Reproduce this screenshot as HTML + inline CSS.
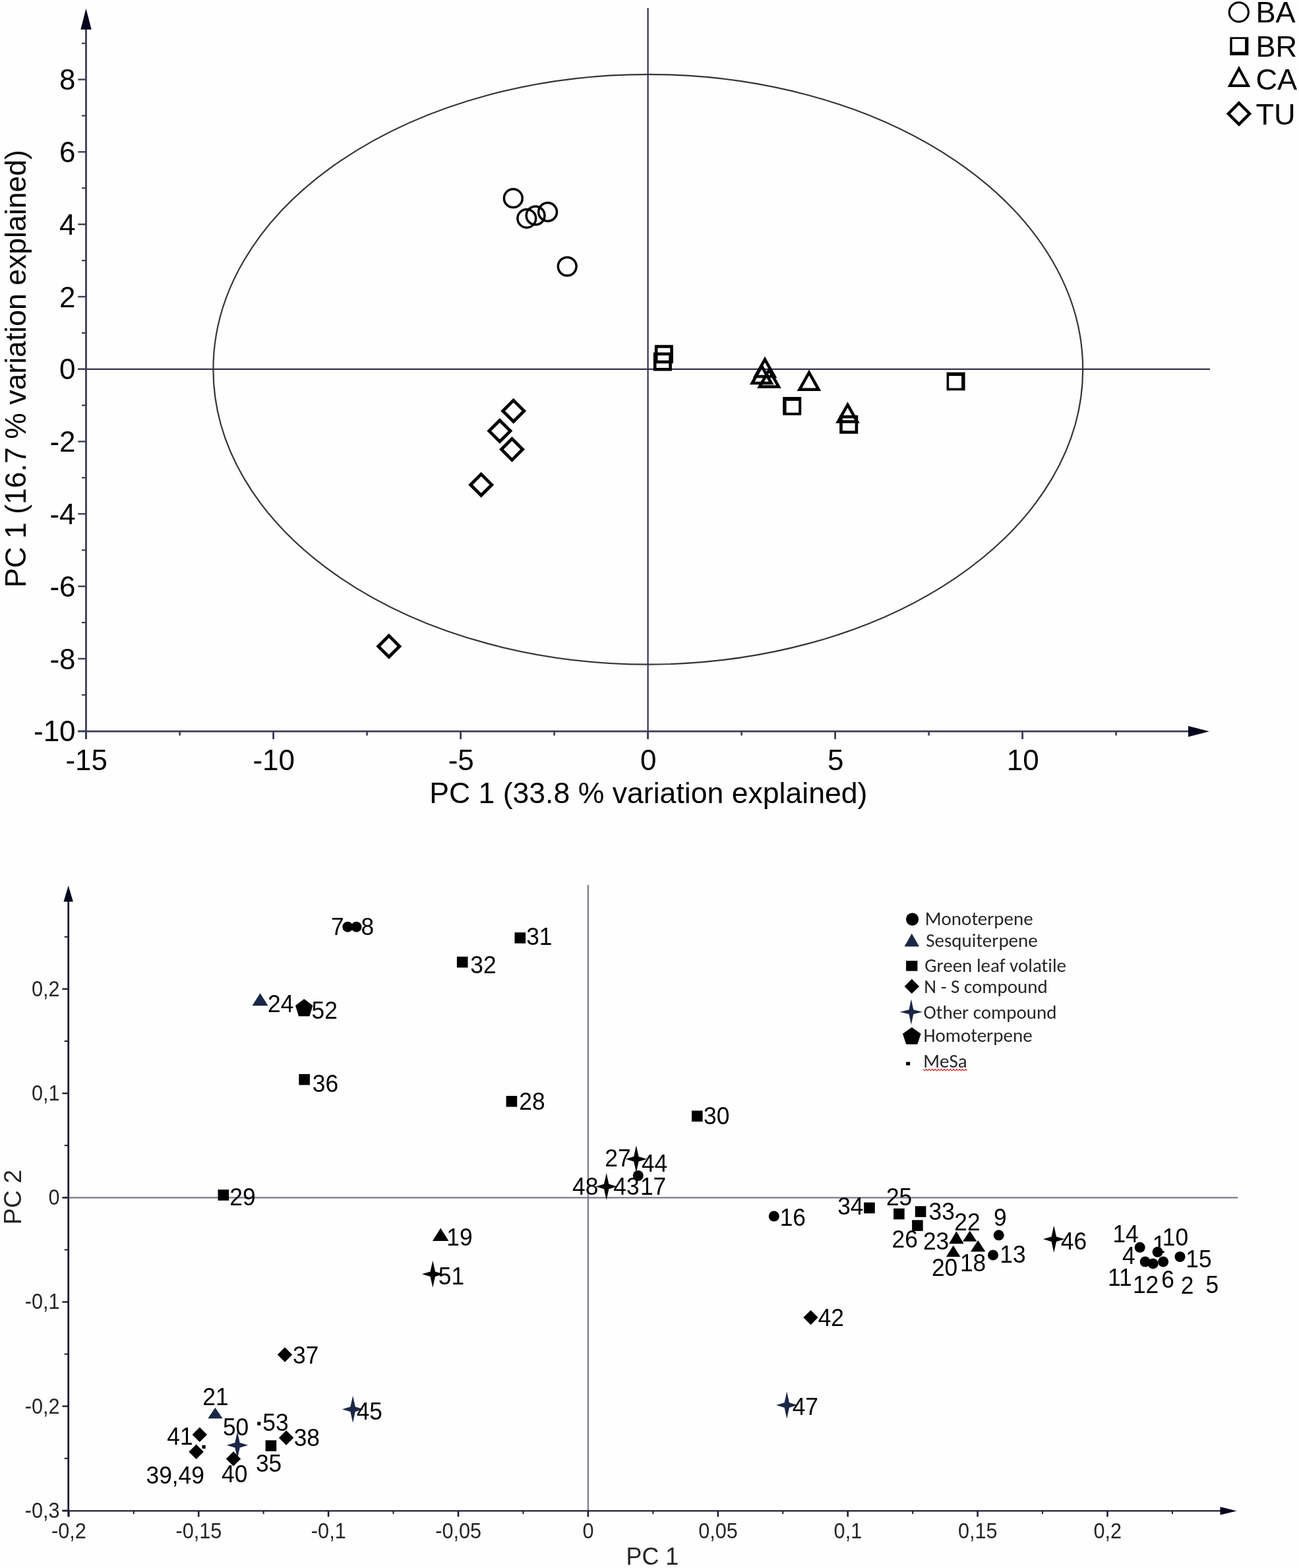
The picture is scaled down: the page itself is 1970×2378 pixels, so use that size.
<!DOCTYPE html>
<html><head><meta charset="utf-8"><title>PCA plots</title>
<style>
html,body{margin:0;padding:0;background:#fff;}
body{width:1970px;height:2378px;overflow:hidden;}
svg{display:block;}
</style></head>
<body>
<svg xmlns="http://www.w3.org/2000/svg" width="1970" height="2378" viewBox="0 0 1970 2378">
<rect width="1970" height="2378" fill="#fefefe"/>
<g id="top">
<line x1="982.6" y1="12" x2="982.6" y2="1121" stroke="#34344e" stroke-width="2.2"/>
<line x1="118" y1="559.8" x2="1835" y2="559.8" stroke="#34344e" stroke-width="2.2"/>
<ellipse cx="982.8" cy="560.2" rx="659.4" ry="447.4" fill="none" stroke="#363636" stroke-width="2.2"/>
<line x1="130.5" y1="40" x2="130.5" y2="1121" stroke="#3c3c54" stroke-width="2.8"/>
<line x1="118" y1="1109.2" x2="1806" y2="1109.2" stroke="#3c3c54" stroke-width="2.8"/>
<polygon points="130.5,13 122.3,44.8 138.7,44.8" fill="#05051e"/>
<polygon points="1834,1109.2 1802,1100.9 1802,1117.5" fill="#05051e"/>
<line x1="118.3" y1="1108.8" x2="130.5" y2="1108.8" stroke="#3c3c54" stroke-width="2.4"/>
<line x1="124" y1="1053.9" x2="130.5" y2="1053.9" stroke="#3c3c54" stroke-width="2.2"/>
<line x1="118.3" y1="999" x2="130.5" y2="999" stroke="#3c3c54" stroke-width="2.4"/>
<line x1="124" y1="944.1" x2="130.5" y2="944.1" stroke="#3c3c54" stroke-width="2.2"/>
<line x1="118.3" y1="889.2" x2="130.5" y2="889.2" stroke="#3c3c54" stroke-width="2.4"/>
<line x1="124" y1="834.3" x2="130.5" y2="834.3" stroke="#3c3c54" stroke-width="2.2"/>
<line x1="118.3" y1="779.4" x2="130.5" y2="779.4" stroke="#3c3c54" stroke-width="2.4"/>
<line x1="124" y1="724.5" x2="130.5" y2="724.5" stroke="#3c3c54" stroke-width="2.2"/>
<line x1="118.3" y1="669.6" x2="130.5" y2="669.6" stroke="#3c3c54" stroke-width="2.4"/>
<line x1="124" y1="614.7" x2="130.5" y2="614.7" stroke="#3c3c54" stroke-width="2.2"/>
<line x1="118.3" y1="559.8" x2="130.5" y2="559.8" stroke="#3c3c54" stroke-width="2.4"/>
<line x1="124" y1="504.9" x2="130.5" y2="504.9" stroke="#3c3c54" stroke-width="2.2"/>
<line x1="118.3" y1="450" x2="130.5" y2="450" stroke="#3c3c54" stroke-width="2.4"/>
<line x1="124" y1="395.1" x2="130.5" y2="395.1" stroke="#3c3c54" stroke-width="2.2"/>
<line x1="118.3" y1="340.2" x2="130.5" y2="340.2" stroke="#3c3c54" stroke-width="2.4"/>
<line x1="124" y1="285.3" x2="130.5" y2="285.3" stroke="#3c3c54" stroke-width="2.2"/>
<line x1="118.3" y1="230.4" x2="130.5" y2="230.4" stroke="#3c3c54" stroke-width="2.4"/>
<line x1="124" y1="175.5" x2="130.5" y2="175.5" stroke="#3c3c54" stroke-width="2.2"/>
<line x1="118.3" y1="120.6" x2="130.5" y2="120.6" stroke="#3c3c54" stroke-width="2.4"/>
<line x1="124" y1="65.7" x2="130.5" y2="65.7" stroke="#3c3c54" stroke-width="2.2"/>
<line x1="130.6" y1="1109.2" x2="130.6" y2="1121" stroke="#3c3c54" stroke-width="2.8"/>
<line x1="272.6" y1="1109.2" x2="272.6" y2="1115.5" stroke="#3c3c54" stroke-width="2.6"/>
<line x1="414.6" y1="1109.2" x2="414.6" y2="1121" stroke="#3c3c54" stroke-width="2.8"/>
<line x1="556.6" y1="1109.2" x2="556.6" y2="1115.5" stroke="#3c3c54" stroke-width="2.6"/>
<line x1="698.6" y1="1109.2" x2="698.6" y2="1121" stroke="#3c3c54" stroke-width="2.8"/>
<line x1="840.6" y1="1109.2" x2="840.6" y2="1115.5" stroke="#3c3c54" stroke-width="2.6"/>
<line x1="982.6" y1="1109.2" x2="982.6" y2="1121" stroke="#3c3c54" stroke-width="2.8"/>
<line x1="1124.6" y1="1109.2" x2="1124.6" y2="1115.5" stroke="#3c3c54" stroke-width="2.6"/>
<line x1="1266.6" y1="1109.2" x2="1266.6" y2="1121" stroke="#3c3c54" stroke-width="2.8"/>
<line x1="1408.6" y1="1109.2" x2="1408.6" y2="1115.5" stroke="#3c3c54" stroke-width="2.6"/>
<line x1="1550.6" y1="1109.2" x2="1550.6" y2="1121" stroke="#3c3c54" stroke-width="2.8"/>
<line x1="1692.6" y1="1109.2" x2="1692.6" y2="1115.5" stroke="#3c3c54" stroke-width="2.6"/>
<g style="font-family:'Liberation Sans',Arial,sans-serif;font-size:44px" fill="#000"><text x="114.6" y="1124.4" text-anchor="end">-10</text><text x="114.6" y="1014.6" text-anchor="end">-8</text><text x="114.6" y="904.8" text-anchor="end">-6</text><text x="114.6" y="795" text-anchor="end">-4</text><text x="114.6" y="685.2" text-anchor="end">-2</text><text x="114.6" y="575.4" text-anchor="end">0</text><text x="114.6" y="465.6" text-anchor="end">2</text><text x="114.6" y="355.8" text-anchor="end">4</text><text x="114.6" y="246" text-anchor="end">6</text><text x="114.6" y="136.2" text-anchor="end">8</text><text x="131.2" y="1167.5" text-anchor="middle">-15</text><text x="415.2" y="1167.5" text-anchor="middle">-10</text><text x="699.2" y="1167.5" text-anchor="middle">-5</text><text x="983.2" y="1167.5" text-anchor="middle">0</text><text x="1267.2" y="1167.5" text-anchor="middle">5</text><text x="1551.2" y="1167.5" text-anchor="middle">10</text><text x="983.3" y="1217.6" text-anchor="middle" style="font-size:44.6px">PC 1 (33.8 % variation explained)</text><text transform="translate(39.4 559.2) rotate(-90)" x="0" y="0" text-anchor="middle" style="font-size:44.6px">PC 1 (16.7 % variation explained)</text><text x="1904.4" y="33.7" style="font-size:45.2px">BA</text><text x="1904.4" y="85.8" style="font-size:45.2px">BR</text><text x="1904.4" y="136.0" style="font-size:45.2px">CA</text><text x="1904.4" y="189.4" style="font-size:45.2px">TU</text></g>
<circle cx="778.3" cy="300.7" r="13.9" fill="none" stroke="#000" stroke-width="3.5"/>
<circle cx="798.8" cy="331.3" r="13.9" fill="none" stroke="#000" stroke-width="3.5"/>
<circle cx="812.1" cy="326.9" r="13.9" fill="none" stroke="#000" stroke-width="3.5"/>
<circle cx="830.6" cy="321.5" r="13.9" fill="none" stroke="#000" stroke-width="3.5"/>
<circle cx="860.2" cy="404.1" r="13.9" fill="none" stroke="#000" stroke-width="3.5"/>
<rect x="995.2" y="525.5" width="23.4" height="23.4" fill="none" stroke="#000" stroke-width="4.6"/>
<rect x="993.2" y="536.8" width="23.4" height="23.4" fill="none" stroke="#000" stroke-width="4.6"/>
<rect x="1275.5" y="632.1" width="23.4" height="23.4" fill="none" stroke="#000" stroke-width="4.6"/>
<rect x="1187.2" y="602" width="28" height="27.7" fill="#000"/><rect x="1192.6" y="607.9" width="18.6" height="17.9" fill="#fff"/>
<rect x="1435.6" y="564.6" width="28" height="27.6" fill="#000"/><rect x="1439.2" y="570.1" width="18.9" height="18.5" fill="#fff"/>
<polygon points="1160,545.2 1145.5,571 1174.5,571" fill="none" stroke="#000" stroke-width="4.5" stroke-miterlimit="10"/>
<polygon points="1155.2,555.3 1140.7,581.1 1169.7,581.1" fill="none" stroke="#000" stroke-width="4.5" stroke-miterlimit="10"/>
<polygon points="1166.5,560.8 1152,586.6 1181,586.6" fill="none" stroke="#000" stroke-width="4.5" stroke-miterlimit="10"/>
<polygon points="1227,565 1212.5,590.8 1241.5,590.8" fill="none" stroke="#000" stroke-width="4.5" stroke-miterlimit="10"/>
<polygon points="1285.5,613.8 1271,639.6 1300,639.6" fill="none" stroke="#000" stroke-width="4.5" stroke-miterlimit="10"/>
<polygon points="778.7,607.1 794.8,623.2 778.7,639.3 762.6,623.2" fill="none" stroke="#000" stroke-width="4.8" stroke-miterlimit="10"/>
<polygon points="757.9,637.5 774,653.6 757.9,669.7 741.8,653.6" fill="none" stroke="#000" stroke-width="4.8" stroke-miterlimit="10"/>
<polygon points="776.5,665.4 792.6,681.5 776.5,697.6 760.4,681.5" fill="none" stroke="#000" stroke-width="4.8" stroke-miterlimit="10"/>
<polygon points="729.7,719.1 745.8,735.2 729.7,751.3 713.6,735.2" fill="none" stroke="#000" stroke-width="4.8" stroke-miterlimit="10"/>
<polygon points="589.8,964.1 605.9,980.2 589.8,996.3 573.7,980.2" fill="none" stroke="#000" stroke-width="4.8" stroke-miterlimit="10"/>
<circle cx="1878.8" cy="18.4" r="14.6" fill="none" stroke="#000" stroke-width="3.1"/>
<rect x="1865.3" y="56.3" width="28" height="27.5" fill="#000"/><rect x="1868.7" y="59.1" width="19.4" height="19.5" fill="#fff"/>
<polygon points="1879,104 1865,130 1893,130" fill="none" stroke="#000" stroke-width="4.0" stroke-miterlimit="10"/>
<polygon points="1879,156.2 1895.2,172.4 1879,188.6 1862.8,172.4" fill="none" stroke="#000" stroke-width="4.4" stroke-miterlimit="10"/>
</g>
<g id="bottom">
<line x1="891.9" y1="1342" x2="891.9" y2="2300.3" stroke="#7a7a8c" stroke-width="2.2"/>
<line x1="94.5" y1="1816.3" x2="1877.2" y2="1816.3" stroke="#7a7a8c" stroke-width="2.2"/>
<line x1="103.7" y1="1364" x2="103.7" y2="2300.3" stroke="#1c1c32" stroke-width="2.8"/>
<line x1="94.5" y1="2291.4" x2="1853" y2="2291.4" stroke="#1c1c32" stroke-width="2.2"/>
<polygon points="103.7,1343 96.5,1367.6 110.9,1367.6" fill="#05051e"/>
<polygon points="1875.6,2291.4 1850.5,2285.2000000000003 1850.5,2297.6" fill="#05051e"/>
<line x1="94.4" y1="2290.9" x2="103.7" y2="2290.9" stroke="#1c1c32" stroke-width="2.4"/>
<line x1="97.7" y1="2211.8" x2="103.7" y2="2211.8" stroke="#1c1c32" stroke-width="2"/>
<line x1="94.4" y1="2132.7" x2="103.7" y2="2132.7" stroke="#1c1c32" stroke-width="2.4"/>
<line x1="97.7" y1="2053.6" x2="103.7" y2="2053.6" stroke="#1c1c32" stroke-width="2"/>
<line x1="94.4" y1="1974.5" x2="103.7" y2="1974.5" stroke="#1c1c32" stroke-width="2.4"/>
<line x1="97.7" y1="1895.4" x2="103.7" y2="1895.4" stroke="#1c1c32" stroke-width="2"/>
<line x1="94.4" y1="1816.3" x2="103.7" y2="1816.3" stroke="#1c1c32" stroke-width="2.4"/>
<line x1="97.7" y1="1737.2" x2="103.7" y2="1737.2" stroke="#1c1c32" stroke-width="2"/>
<line x1="94.4" y1="1658.1" x2="103.7" y2="1658.1" stroke="#1c1c32" stroke-width="2.4"/>
<line x1="97.7" y1="1579" x2="103.7" y2="1579" stroke="#1c1c32" stroke-width="2"/>
<line x1="94.4" y1="1499.9" x2="103.7" y2="1499.9" stroke="#1c1c32" stroke-width="2.4"/>
<line x1="97.7" y1="1420.8" x2="103.7" y2="1420.8" stroke="#1c1c32" stroke-width="2"/>
<line x1="104.3" y1="2291.4" x2="104.3" y2="2300.3" stroke="#1c1c32" stroke-width="2.6"/>
<line x1="202.75" y1="2291.4" x2="202.75" y2="2296.2" stroke="#1c1c32" stroke-width="2"/>
<line x1="301.2" y1="2291.4" x2="301.2" y2="2300.3" stroke="#1c1c32" stroke-width="2.6"/>
<line x1="399.65" y1="2291.4" x2="399.65" y2="2296.2" stroke="#1c1c32" stroke-width="2"/>
<line x1="498.1" y1="2291.4" x2="498.1" y2="2300.3" stroke="#1c1c32" stroke-width="2.6"/>
<line x1="596.55" y1="2291.4" x2="596.55" y2="2296.2" stroke="#1c1c32" stroke-width="2"/>
<line x1="695" y1="2291.4" x2="695" y2="2300.3" stroke="#1c1c32" stroke-width="2.6"/>
<line x1="793.45" y1="2291.4" x2="793.45" y2="2296.2" stroke="#1c1c32" stroke-width="2"/>
<line x1="891.9" y1="2291.4" x2="891.9" y2="2300.3" stroke="#1c1c32" stroke-width="2.6"/>
<line x1="990.35" y1="2291.4" x2="990.35" y2="2296.2" stroke="#1c1c32" stroke-width="2"/>
<line x1="1088.8" y1="2291.4" x2="1088.8" y2="2300.3" stroke="#1c1c32" stroke-width="2.6"/>
<line x1="1187.25" y1="2291.4" x2="1187.25" y2="2296.2" stroke="#1c1c32" stroke-width="2"/>
<line x1="1285.7" y1="2291.4" x2="1285.7" y2="2300.3" stroke="#1c1c32" stroke-width="2.6"/>
<line x1="1384.15" y1="2291.4" x2="1384.15" y2="2296.2" stroke="#1c1c32" stroke-width="2"/>
<line x1="1482.6" y1="2291.4" x2="1482.6" y2="2300.3" stroke="#1c1c32" stroke-width="2.6"/>
<line x1="1581.05" y1="2291.4" x2="1581.05" y2="2296.2" stroke="#1c1c32" stroke-width="2"/>
<line x1="1679.5" y1="2291.4" x2="1679.5" y2="2300.3" stroke="#1c1c32" stroke-width="2.6"/>
<line x1="1777.95" y1="2291.4" x2="1777.95" y2="2296.2" stroke="#1c1c32" stroke-width="2"/>
<g style="font-family:'Liberation Sans',Arial,sans-serif;font-size:33px" fill="#262626"><text transform="translate(90.6 1510.8) scale(0.93 1)" text-anchor="end">0,2</text><text transform="translate(90.6 1669) scale(0.93 1)" text-anchor="end">0,1</text><text transform="translate(90.6 1827.2) scale(0.93 1)" text-anchor="end">0</text><text transform="translate(90.6 1985.4) scale(0.93 1)" text-anchor="end">-0,1</text><text transform="translate(90.6 2143.6) scale(0.93 1)" text-anchor="end">-0,2</text><text transform="translate(90.6 2301.8) scale(0.93 1)" text-anchor="end">-0,3</text><text transform="translate(104.5 2332.5) scale(0.93 1)" text-anchor="middle">-0,2</text><text transform="translate(301.4 2332.5) scale(0.93 1)" text-anchor="middle">-0,15</text><text transform="translate(498.3 2332.5) scale(0.93 1)" text-anchor="middle">-0,1</text><text transform="translate(695.2 2332.5) scale(0.93 1)" text-anchor="middle">-0,05</text><text transform="translate(892.1 2332.5) scale(0.93 1)" text-anchor="middle">0</text><text transform="translate(1089 2332.5) scale(0.93 1)" text-anchor="middle">0,05</text><text transform="translate(1285.9 2332.5) scale(0.93 1)" text-anchor="middle">0,1</text><text transform="translate(1482.8 2332.5) scale(0.93 1)" text-anchor="middle">0,15</text><text transform="translate(1679.7 2332.5) scale(0.93 1)" text-anchor="middle">0,2</text><text transform="translate(989.4 2373.3) scale(0.95 1)" text-anchor="middle" style="font-size:37.8px">PC 1</text><text transform="translate(31.7 1815.5) rotate(-90)" text-anchor="middle" style="font-size:37.5px">PC 2</text></g>
<circle cx="527.3" cy="1405.7" r="8.0" fill="#000"/>
<circle cx="540.5" cy="1405.7" r="8.0" fill="#000"/>
<circle cx="967.8" cy="1783" r="8.0" fill="#000"/>
<circle cx="1173.8" cy="1844.5" r="8.0" fill="#000"/>
<circle cx="1514.7" cy="1873.3" r="8.0" fill="#000"/>
<circle cx="1506" cy="1903.4" r="8.0" fill="#000"/>
<circle cx="1728.7" cy="1891.8" r="8.0" fill="#000"/>
<circle cx="1755.6" cy="1898.8" r="8.0" fill="#000"/>
<circle cx="1789.5" cy="1906" r="8.0" fill="#000"/>
<circle cx="1736.7" cy="1913.5" r="8.0" fill="#000"/>
<circle cx="1748.6" cy="1916.4" r="8.0" fill="#000"/>
<circle cx="1764.1" cy="1913.5" r="8.0" fill="#000"/>
<polygon points="668.2,1862.5 655.95,1881.9 680.45,1881.9" fill="#000"/>
<polygon points="1450.4,1867.2 1439.15,1886.2 1461.65,1886.2" fill="#000"/>
<polygon points="1470.7,1866.4 1459.95,1882.8 1481.45,1882.8" fill="#000"/>
<polygon points="1445.7,1888.8 1434.95,1906 1456.45,1906" fill="#000"/>
<polygon points="1483.2,1881 1471.95,1898.3 1494.45,1898.3" fill="#000"/>
<polygon points="394.5,1506.3 382.5,1525.2 406.5,1525.2" fill="#1a2746"/>
<polygon points="326.4,2134.8 315.2,2151.2 337.6,2151.2" fill="#1a2746"/>
<rect x="780.5" y="1414.1" width="16.6" height="16.6" fill="#000"/>
<rect x="692.9" y="1450.8" width="16.6" height="16.6" fill="#000"/>
<rect x="453.3" y="1628.9" width="16.6" height="16.6" fill="#000"/>
<rect x="767.6" y="1662" width="16.6" height="16.6" fill="#000"/>
<rect x="330.5" y="1804.1" width="16.6" height="16.6" fill="#000"/>
<rect x="1049" y="1684.4" width="16.6" height="16.6" fill="#000"/>
<rect x="1310.2" y="1823.6" width="16.6" height="16.6" fill="#000"/>
<rect x="1355.1" y="1832.7" width="16.6" height="16.6" fill="#000"/>
<rect x="1387.8" y="1829.2" width="16.6" height="16.6" fill="#000"/>
<rect x="1383.1" y="1850.3" width="16.6" height="16.6" fill="#000"/>
<rect x="402.6" y="2184.3" width="16.6" height="16.6" fill="#000"/>
<polygon points="1229.5,1986.9 1240.7,1998.1 1229.5,2009.3 1218.3,1998.1" fill="#000"/>
<polygon points="432,2043.3 443.2,2054.5 432,2065.7 420.8,2054.5" fill="#000"/>
<polygon points="302.8,2164.5 314,2175.7 302.8,2186.9 291.6,2175.7" fill="#000"/>
<polygon points="434.1,2169.3 445.3,2180.5 434.1,2191.7 422.9,2180.5" fill="#000"/>
<polygon points="297.6,2190.5 308.8,2201.7 297.6,2212.9 286.4,2201.7" fill="#000"/>
<polygon points="354,2201.2 365.2,2212.4 354,2223.6 342.8,2212.4" fill="#000"/>
<polygon points="964.9,1737.2 968.6,1754 981.2,1757.7 968.6,1761.4 964.9,1778.2 961.2,1761.4 948.6,1757.7 961.2,1754" fill="#000"/>
<polygon points="919.7,1779 923.4,1795.8 936,1799.5 923.4,1803.2 919.7,1820 916,1803.2 903.4,1799.5 916,1795.8" fill="#000"/>
<polygon points="656.3,1911.8 660,1928.6 672.6,1932.3 660,1936 656.3,1952.8 652.6,1936 640,1932.3 652.6,1928.6" fill="#000"/>
<polygon points="1598.3,1858.8 1602,1875.6 1614.6,1879.3 1602,1883 1598.3,1899.8 1594.6,1883 1582,1879.3 1594.6,1875.6" fill="#000"/>
<polygon points="1193.3,2110.5 1197,2127.3 1209.6,2131 1197,2134.7 1193.3,2151.5 1189.6,2134.7 1177,2131 1189.6,2127.3" fill="#1a2746"/>
<polygon points="535.1,2116.7 538.8,2133.5 551.4,2137.2 538.8,2140.9 535.1,2157.7 531.4,2140.9 518.8,2137.2 531.4,2133.5" fill="#1a2746"/>
<polygon points="360,2171.2 363.7,2188 376.3,2191.7 363.7,2195.4 360,2212.2 356.3,2195.4 343.7,2191.7 356.3,2188" fill="#1a2746"/>
<polygon points="461.2,1514.9 474.4,1524.98 469.36,1541.3 453.04,1541.3 448,1524.98" fill="#000"/>
<rect x="390.2" y="2156.4" width="5.2" height="5.2" fill="#000"/>
<rect x="306.5" y="2191.7" width="5.2" height="5.2" fill="#000"/>
<g style="font-family:'Liberation Sans',Arial,sans-serif;font-size:37.6px" fill="#000"><text transform="translate(501.93 1418.4) scale(0.94 1)">7</text><text transform="translate(547.51 1418.2) scale(0.94 1)">8</text><text transform="translate(798.19 1432.6) scale(0.94 1)">31</text><text transform="translate(713.29 1476) scale(0.94 1)">32</text><text transform="translate(406.03 1534.6) scale(0.94 1)">24</text><text transform="translate(472.49 1545) scale(0.94 1)">52</text><text transform="translate(473.79 1655.6) scale(0.94 1)">36</text><text transform="translate(787.23 1683.2) scale(0.94 1)">28</text><text transform="translate(348.23 1828) scale(0.94 1)">29</text><text transform="translate(1066.99 1705.3) scale(0.94 1)">30</text><text transform="translate(917.23 1768.6) scale(0.94 1)">27</text><text transform="translate(972.89 1776.5) scale(0.94 1)">44</text><text transform="translate(867.99 1811.8) scale(0.94 1)">48</text><text transform="translate(930.29 1811.8) scale(0.94 1)">43</text><text transform="translate(970.95 1812.3) scale(0.94 1)">17</text><text transform="translate(1182.65 1858.6) scale(0.94 1)">16</text><text transform="translate(1270.19 1842.2) scale(0.94 1)">34</text><text transform="translate(1343.93 1828.4) scale(0.94 1)">25</text><text transform="translate(1408.59 1849.5) scale(0.94 1)">33</text><text transform="translate(1352.53 1892.2) scale(0.94 1)">26</text><text transform="translate(1399.93 1894.8) scale(0.94 1)">23</text><text transform="translate(1447.33 1866.3) scale(0.94 1)">22</text><text transform="translate(1507.01 1859.4) scale(0.94 1)">9</text><text transform="translate(1412.93 1935.3) scale(0.94 1)">20</text><text transform="translate(1455.95 1927.5) scale(0.94 1)">18</text><text transform="translate(1516.35 1914.6) scale(0.94 1)">13</text><text transform="translate(1608.79 1894.8) scale(0.94 1)">46</text><text transform="translate(1687.45 1884.2) scale(0.94 1)">14</text><text transform="translate(1747.85 1899.5) scale(0.94 1)">1</text><text transform="translate(1762.75 1889.4) scale(0.94 1)">10</text><text transform="translate(1702.09 1917) scale(0.94 1)">4</text><text transform="translate(1798.35 1921.6) scale(0.94 1)">15</text><text transform="translate(1679.95 1949.8) scale(0.94 1)">11</text><text transform="translate(1717.95 1960.7) scale(0.94 1)">12</text><text transform="translate(1761.33 1952.6) scale(0.94 1)">6</text><text transform="translate(1790.63 1961.8) scale(0.94 1)">2</text><text transform="translate(1828.39 1960.8) scale(0.94 1)">5</text><text transform="translate(677.35 1888.7) scale(0.94 1)">19</text><text transform="translate(664.79 1948.2) scale(0.94 1)">51</text><text transform="translate(1240.69 2010.8) scale(0.94 1)">42</text><text transform="translate(1201.69 2145.6) scale(0.94 1)">47</text><text transform="translate(443.99 2067.9) scale(0.94 1)">37</text><text transform="translate(540.69 2153) scale(0.94 1)">45</text><text transform="translate(307.33 2130.5) scale(0.94 1)">21</text><text transform="translate(337.89 2177) scale(0.94 1)">50</text><text transform="translate(398.29 2170.1) scale(0.94 1)">53</text><text transform="translate(253.29 2190.8) scale(0.94 1)">41</text><text transform="translate(445.69 2192.5) scale(0.94 1)">38</text><text transform="translate(387.89 2232.2) scale(0.94 1)">35</text><text transform="translate(221.49 2250.3) scale(0.94 1)">39,49</text><text transform="translate(335.99 2247.7) scale(0.94 1)">40</text></g>
<circle cx="1383.6" cy="1394.1" r="9.6" fill="#000"/>
<polygon points="1382.8,1415.7 1371.6,1435.5 1394,1435.5" fill="#1a2746"/>
<rect x="1374.1" y="1457.1" width="17.3" height="15.5" fill="#000"/>
<polygon points="1382.8,1484.7 1394,1495.9 1382.8,1507.1 1371.6,1495.9" fill="#000"/>
<polygon points="1381.9,1515.3 1385.3,1531.3 1399.1,1534.7 1385.3,1538.1 1381.9,1554.1 1378.5,1538.1 1364.7,1534.7 1378.5,1531.3" fill="#1a2746"/>
<polygon points="1382.8,1557.9 1396.6,1567.79 1391.33,1583.8 1374.27,1583.8 1369,1567.79" fill="#000"/>
<rect x="1374.1" y="1610.5" width="6.1" height="5.2" fill="#000"/>
<g style="font-family:Carlito,Calibri,'Liberation Sans',sans-serif;font-size:29px;font-variant-ligatures:none" fill="#262626"><text x="1402.78" y="1402.8">Monoterpene</text><text x="1404.23" y="1435.5">Sesquiterpene</text><text x="1402.24" y="1474.3">Green leaf volatile</text><text x="1401.37" y="1506.2">N - S compound</text><text x="1400.54" y="1545">Other compound</text><text x="1400.47" y="1580.3">Homoterpene</text><text x="1400.18" y="1619.1">MeSa</text></g>
<polyline points="1400,1621.3 1402.3,1623.9 1404.6,1621.3 1406.9,1623.9 1409.2,1621.3 1411.5,1623.9 1413.8,1621.3 1416.1,1623.9 1418.4,1621.3 1420.7,1623.9 1423,1621.3 1425.3,1623.9 1427.6,1621.3 1429.9,1623.9 1432.2,1621.3 1434.5,1623.9 1436.8,1621.3 1439.1,1623.9 1441.4,1621.3 1443.7,1623.9 1446,1621.3 1448.3,1623.9 1450.6,1621.3 1452.9,1623.9 1455.2,1621.3 1457.5,1623.9 1459.8,1621.3 1462.1,1623.9 1464.4,1621.3 1466.7,1623.9" fill="none" stroke="#e03030" stroke-width="1.2"/>
</g>
</svg>
</body></html>
